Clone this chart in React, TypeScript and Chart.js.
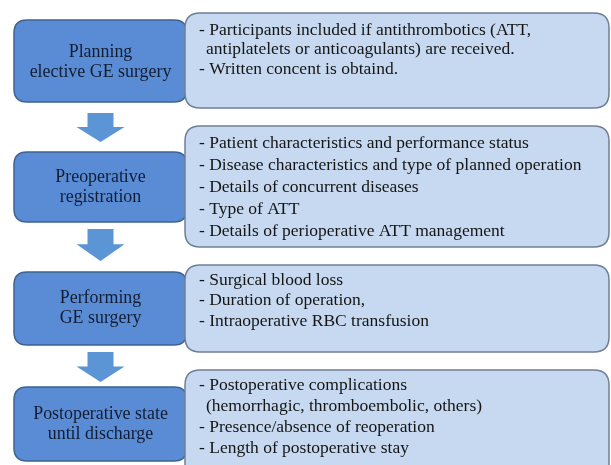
import React, { useEffect, useRef } from "react";
import { Chart, registerables } from "chart.js";

Chart.register(...registerables);

// ---- content ----
const stageLabels: string[][] = [
  ["Planning", "elective GE surgery"],
  ["Preoperative", "registration"],
  ["Performing", "GE surgery"],
  ["Postoperative state", "until discharge"],
];

const stageDetails: string[][] = [
  [
    "- Participants included if antithrombotics (ATT,",
    "  antiplatelets or anticoagulants) are received.",
    "- Written concent is obtaind.",
  ],
  [
    "- Patient characteristics and performance status",
    "- Disease characteristics and type of planned operation",
    "- Details of concurrent diseases",
    "- Type of ATT",
    "- Details of perioperative ATT management",
  ],
  [
    "- Surgical blood loss",
    "- Duration of operation,",
    "- Intraoperative RBC transfusion",
  ],
  [
    "- Postoperative complications",
    "  (hemorrhagic, thromboembolic, others)",
    "- Presence/absence of reoperation",
    "- Length of postoperative stay",
  ],
];

// ---- layout (scale units = pixels of a 611x465 frame) ----
const leftBoxX = [14, 187];
const leftBoxY: number[][] = [
  [20, 102],
  [152, 222],
  [272, 345],
  [387, 461],
];
const leftTextY: number[] = [52, 177, 298, 414];
const rightBoxX = [185, 609];
const rightBoxY: number[][] = [
  [13, 108],
  [126, 247],
  [265, 352],
  [370, 480],
];
const rightTextY: number[] = [30, 143, 280, 385];
const rightLineGap: number[] = [19.5, 22, 20.5, 21];
const arrowY: number[][] = [
  [113, 142],
  [229, 261],
  [352, 382],
];

const FONT = "'Liberation Serif', 'Times New Roman', serif";

function roundRect(ctx: CanvasRenderingContext2D, x0: number, y0: number, x1: number, y1: number, r: number) {
  ctx.beginPath();
  ctx.moveTo(x0 + r, y0);
  ctx.lineTo(x1 - r, y0);
  ctx.quadraticCurveTo(x1, y0, x1, y0 + r);
  ctx.lineTo(x1, y1 - r);
  ctx.quadraticCurveTo(x1, y1, x1 - r, y1);
  ctx.lineTo(x0 + r, y1);
  ctx.quadraticCurveTo(x0, y1, x0, y1 - r);
  ctx.lineTo(x0, y0 + r);
  ctx.quadraticCurveTo(x0, y0, x0 + r, y0);
  ctx.closePath();
}

const flowPlugin = {
  id: "flow",
  afterDatasetsDraw(chart: any) {
    const ctx: CanvasRenderingContext2D = chart.ctx;
    const sx = chart.scales.x;
    const sy = chart.scales.y;
    const X = (v: number) => sx.getPixelForValue(v);
    const Y = (v: number) => sy.getPixelForValue(v);
    ctx.save();

    // arrows
    const cx = (leftBoxX[0] + leftBoxX[1]) / 2;
    arrowY.forEach(([top, tip]) => {
      const headTop = top + (tip - top) * 0.48;
      ctx.beginPath();
      ctx.moveTo(X(cx - 13), Y(top));
      ctx.lineTo(X(cx + 13), Y(top));
      ctx.lineTo(X(cx + 13), Y(headTop));
      ctx.lineTo(X(cx + 24), Y(headTop));
      ctx.lineTo(X(cx), Y(tip));
      ctx.lineTo(X(cx - 24), Y(headTop));
      ctx.lineTo(X(cx - 13), Y(headTop));
      ctx.closePath();
      ctx.fillStyle = "#5b95d6";
      ctx.fill();
    });

    stageLabels.forEach((lines, i) => {
      // left box
      roundRect(ctx, X(leftBoxX[0]), Y(leftBoxY[i][0]), X(leftBoxX[1]), Y(leftBoxY[i][1]), 13);
      ctx.fillStyle = "#5a8cd5";
      ctx.fill();
      ctx.lineWidth = 1.5;
      ctx.strokeStyle = "#3d6391";
      ctx.stroke();
      ctx.fillStyle = "#121d33";
      ctx.font = `17.9px ${FONT}`;
      ctx.textAlign = "center";
      ctx.textBaseline = "middle";
      lines.forEach((t, k) => {
        ctx.fillText(t, X(cx), Y(leftTextY[i] + k * 20.5));
      });

      // right box
      roundRect(ctx, X(rightBoxX[0]), Y(rightBoxY[i][0]), X(rightBoxX[1]), Y(rightBoxY[i][1]), 15);
      ctx.fillStyle = "#c6d9f0";
      ctx.fill();
      ctx.lineWidth = 1.5;
      ctx.strokeStyle = "#6f7f95";
      ctx.stroke();
      ctx.fillStyle = "#151515";
      ctx.font = `17.5px ${FONT}`;
      ctx.textAlign = "left";
      stageDetails[i].forEach((t, k) => {
        const indent = t.startsWith("  ");
        ctx.fillText(t.trim(), X(indent ? 206 : 199), Y(rightTextY[i] + k * rightLineGap[i]));
      });
    });
    ctx.restore();
  },
};

export default function App() {
  const ref = useRef<HTMLCanvasElement>(null);
  useEffect(() => {
    document.body.style.margin = "0";
    const chart = new Chart(ref.current!, {
      type: "scatter",
      data: { datasets: [{ data: [], pointRadius: 0 }] },
      options: {
        animation: false,
        responsive: false,
        layout: { padding: 0 },
        plugins: { legend: { display: false }, tooltip: { enabled: false } },
        scales: {
          x: { type: "linear", min: 0, max: 611, display: false },
          y: { type: "linear", min: 0, max: 465, reverse: true, display: false },
        },
      },
      plugins: [flowPlugin],
    });
    return () => chart.destroy();
  }, []);
  return (
    <div style={{ width: 611, height: 465, background: "#fff" }}>
      <canvas ref={ref} width={611} height={465} />
    </div>
  );
}
